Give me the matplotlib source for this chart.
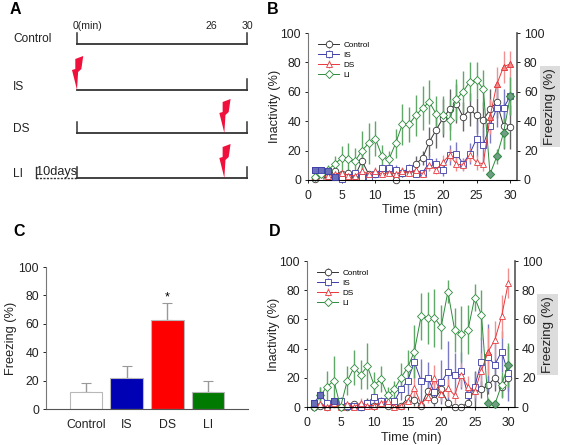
import matplotlib
matplotlib.use("Agg")
import matplotlib.pyplot as plt
from matplotlib.patches import Polygon, Rectangle

plt.rcParams["font.family"] = ["Liberation Sans", "DejaVu Sans"]

W, H = 563, 445

minutes = list(range(1, 31))

# panel B
b_control = [1, 3, 3, 6, 4, 5, 3, 13, 4, 4, 5, 7, 0, 5, 7, 11, 15, 26, 34, 42, 48, 52, 43, 48, 44, 41, 48, 53, 37, 36]
b_control_err = [1, 1, 1, 2, 2, 2, 2, 6, 2, 2, 2, 3, 1, 3, 3, 5, 5, 10, 12, 13, 14, 13, 10, 11, 12, 12, 14, 11, 16, 15]
b_is = [7, 7, 6, 2, 1, 2, 5, 2, 2, 4, 8, 8, 7, 5, 8, 4, 5, 12, 11, 7, 17, 18, 11, 18, 28, 24, 37, 49, 49, 57]
b_is_err = [2, 2, 2, 1, 1, 1, 2, 1, 1, 2, 3, 3, 3, 2, 3, 2, 2, 5, 4, 4, 7, 8, 4, 7, 12, 12, 12, 13, 13, 13]
b_ds = [2, 2, 3, 4, 5, 3, 3, 6, 4, 6, 4, 5, 4, 6, 5, 7, 4, 10, 7, 12, 17, 11, 10, 17, 12, 11, 43, 65, 77, 79]
b_ds_err = [1, 1, 1, 2, 2, 1, 1, 3, 2, 3, 2, 2, 2, 3, 2, 3, 2, 4, 3, 5, 4, 5, 4, 5, 5, 5, 12, 12, 11, 9]
b_li = [2, 4, 7, 11, 15, 14, 13, 20, 25, 28, 16, 14, 25, 38, 38, 44, 49, 53, 45, 44, 41, 55, 60, 67, 68, 62, 4, 16, 32, 57]
b_li_err = [1, 2, 3, 5, 8, 11, 9, 13, 14, 12, 8, 6, 10, 14, 12, 14, 15, 15, 12, 13, 14, 14, 14, 13, 12, 13, 2, 5, 10, 13]

# panel D
d_control = [0, 1, 0, 2, 0, 0, 2, 0, 3, 1, 3, 1, 1, 1, 6, 5, 1, 11, 5, 12, 3, 0, 0, 3, 12, 12, 15, 20, 14, 20]
d_control_err = [0, 1, 1, 2, 1, 1, 2, 1, 3, 2, 3, 1, 1, 1, 3, 4, 2, 6, 4, 7, 3, 1, 1, 3, 13, 6, 6, 9, 7, 9]
d_is = [3, 8, 3, 4, 4, 1, 1, 0, 3, 7, 4, 4, 4, 12, 18, 31, 18, 20, 10, 17, 24, 22, 25, 8, 14, 31, 34, 29, 38, 23]
d_is_err = [2, 6, 2, 3, 3, 1, 1, 1, 2, 5, 3, 3, 3, 7, 9, 11, 15, 11, 8, 15, 21, 15, 13, 7, 10, 17, 23, 14, 14, 19]
d_ds = [1, 2, 0, 3, 0, 2, 0, 3, 1, 1, 3, 4, 0, 1, 4, 13, 2, 7, 20, 9, 13, 8, 22, 14, 11, 25, 38, 46, 62, 85]
d_ds_err = [1, 1, 1, 2, 1, 1, 1, 3, 1, 1, 2, 2, 1, 1, 2, 7, 2, 4, 9, 5, 6, 5, 8, 7, 5, 12, 16, 13, 15, 10]
d_li = [0, 8, 14, 18, 0, 18, 27, 22, 28, 15, 19, 8, 12, 20, 27, 38, 62, 61, 61, 55, 79, 53, 50, 53, 75, 63, 3, 2, 15, 29]
d_li_err = [0, 6, 11, 17, 1, 10, 12, 10, 16, 9, 9, 6, 6, 10, 12, 18, 16, 18, 20, 15, 8, 15, 19, 17, 9, 17, 3, 2, 9, 15]

# minutes whose markers look filled in the original
b_filled = {"IS": [1, 2, 3, 4], "DS": [27, 28, 29, 30], "LI": [27, 28, 29, 30]}
d_filled = {"IS": [1, 2, 4], "DS": [27], "LI": [27, 28, 30]}

# panel C
groups = ["Control", "IS", "DS", "LI"]
freezing = [12, 21.5, 63, 12]
freezing_err = [6, 9, 12, 8]
bar_colors = ["white", "#0000b4", "#ff0000", "#007a00"]

# panel A
rows = ["Control", "IS", "DS", "LI"]
shock_time = [None, 0, 26, 26]

series_colors = {"Control": "#333333", "IS": "#3c3ca8", "DS": "#e8383c", "LI": "#2e8b3c"}
err_colors = {"Control": "#666666", "IS": "#7a7ac8", "DS": "#f09090", "LI": "#5fa868"}
fill_colors = {"IS": "#6a70b8", "DS": "#f08a8a", "LI": "#6f9e84"}
series_markers = {"Control": "o", "IS": "s", "DS": "^", "LI": "D"}
series_sizes = {"Control": 4.7, "IS": 4.2, "DS": 4.8, "LI": 4.0}


def px_axes(left, top, right, bottom):
    return fig.add_axes([left / W, 1 - bottom / H, (right - left) / W, (bottom - top) / H])


def fig_text(x, y, s, **kw):
    kw.setdefault("va", "center")
    fig.text(x / W, 1 - y / H, s, **kw)


def time_panel(box, data, filled, label_box):
    ax = px_axes(*box)
    for name, vals, err in data:
        ax.errorbar(minutes, vals, yerr=err, color=series_colors[name], ecolor=err_colors[name],
                    elinewidth=1.0, linewidth=0.7, marker=series_markers[name],
                    markersize=series_sizes[name], markerfacecolor="white",
                    markeredgecolor=series_colors[name], markeredgewidth=0.6,
                    clip_on=False, label=name)
        if name in filled:
            ax.plot(filled[name], [vals[m - 1] for m in filled[name]], ls="none",
                    marker=series_markers[name], markersize=series_sizes[name],
                    markerfacecolor=fill_colors[name], markeredgecolor=series_colors[name],
                    markeredgewidth=0.6, clip_on=False, zorder=3)
    ax.set_xlim(0, 31)
    ax.set_ylim(0, 100)
    ax.set_xticks(range(0, 31, 5))
    ax.set_yticks(range(0, 101, 20))
    ax.tick_params(labelsize=8.8, length=2, width=0.7, colors="#222222")
    ax.tick_params(axis="x", pad=5)
    ax.tick_params(axis="y", pad=3)
    ax.spines["top"].set_visible(False)
    ax.spines["left"].set_color("#777777")
    ax.spines["right"].set_color("#555555")
    ax.spines["right"].set_linewidth(1.2)
    ax.set_xlabel("Time (min)", fontsize=9.2, labelpad=2, color="#222222")
    ax.set_ylabel("Inactivity (%)", fontsize=9.2, labelpad=0, color="#222222")
    ax.legend(loc="upper left", bbox_to_anchor=(0.02, 0.985), frameon=False, fontsize=5.9,
              labelspacing=0.3, handlelength=2.6, handletextpad=0.5, borderpad=0.2)
    right = ax.twinx()
    right.set_ylim(0, 100)
    right.set_yticks(range(0, 101, 20))
    right.tick_params(labelsize=8.8, length=2, width=0.7, pad=3, colors="#222222")
    for s in right.spines.values():
        s.set_visible(False)
    x0, y0, x1, y1 = label_box
    fig.add_artist(Rectangle((x0 / W, 1 - y1 / H), (x1 - x0) / W, (y1 - y0) / H,
                             facecolor="#dcdcdc", edgecolor="none", transform=fig.transFigure))
    fig_text((x0 + x1) / 2, (y0 + y1) / 2, "Freezing (%)", rotation=90, ha="center",
             fontsize=9.6, color="#222222")


fig = plt.figure(figsize=(W / 100, H / 100), dpi=100)

# A: schematic, x axis in minutes
ax_a = px_axes(77, 0, 247, 210)
ax_a.set_xlim(0, 30)
ax_a.set_ylim(210, 0)
ax_a.axis("off")
row_y = [44, 90, 133, 178]
left_tick = [True, False, True, True]
label_y = [39, 87, 129, 174]
bolt = [(-0.3, -31), (1.1, -34), (0.77, -21), (0.2, -18), (0.0, 0), (-0.88, -20), (-0.3, -21)]
for name, y, has_tick, ly, shock in zip(rows, row_y, left_tick, label_y, shock_time):
    ax_a.plot([0, 30], [y, y], color="#333333", lw=1.3, clip_on=False)
    ax_a.plot([30, 30], [y, y - 11], color="#333333", lw=1.1, clip_on=False)
    if has_tick:
        ax_a.plot([0, 0], [y, y - 11], color="#333333", lw=1.1, clip_on=False)
    fig_text(13, ly, name, fontsize=8.6, color="#222222")
    if shock is not None:
        ax_a.add_patch(Polygon([(shock + dx, y + dy) for dx, dy in bolt], closed=True,
                               facecolor="#f0103c", edgecolor="none", clip_on=False, zorder=3))
ax_a.plot([-7.2, 0], [178, 178], color="#333333", lw=1.0, ls=(0, (1.5, 1)), clip_on=False)
ax_a.plot([-7.2, -7.2], [178, 167], color="#333333", lw=1.0, clip_on=False)
fig_text(36, 172, "10days", fontsize=9.2, color="#222222")
fig_text(73, 26, "0(min)", fontsize=7.6, color="#222222")
fig_text(211, 26, "26", fontsize=7.6, ha="center", color="#222222")
fig_text(247, 26, "30", fontsize=7.6, ha="center", color="#222222")

# B and D
time_panel((308, 33, 517, 180),
           [("Control", b_control, b_control_err), ("IS", b_is, b_is_err),
            ("DS", b_ds, b_ds_err), ("LI", b_li, b_li_err)], b_filled, (540, 66, 560, 147))
time_panel((307, 261, 515, 407),
           [("Control", d_control, d_control_err), ("IS", d_is, d_is_err),
            ("DS", d_ds, d_ds_err), ("LI", d_li, d_li_err)], d_filled, (537, 294, 558, 375))

# C
ax_c = px_axes(46, 267, 248, 409)
pos = range(len(groups))
ax_c.errorbar(pos, freezing, yerr=[[0] * 4, freezing_err], fmt="none", ecolor="#999999",
              elinewidth=1.0, capsize=3.5, capthick=0.8)
ax_c.bar(pos, freezing, width=0.8, color=bar_colors, edgecolor="#b8b8b8", linewidth=0.8, zorder=2)
ax_c.text(2, freezing[2] + freezing_err[2] - 1, "*", ha="center", va="bottom", fontsize=9)
ax_c.set_xlim(-0.98, 3.98)
ax_c.set_ylim(0, 100)
ax_c.set_yticks(range(0, 101, 20))
ax_c.set_xticks(list(pos))
ax_c.set_xticklabels(groups)
ax_c.tick_params(labelsize=8.8, length=2, width=0.7, pad=3, colors="#222222")
ax_c.tick_params(axis="x", length=0, pad=7)
ax_c.spines["top"].set_visible(False)
ax_c.spines["right"].set_visible(False)
ax_c.spines["left"].set_color("#777777")
ax_c.spines["bottom"].set_color("#555555")
ax_c.set_ylabel("Freezing (%)", fontsize=9.2, labelpad=1, color="#222222")

for letter, x, y in [("A", 10, 9), ("B", 267, 9), ("C", 13, 232), ("D", 269, 232)]:
    fig_text(x, y, letter, fontsize=11.5, fontweight="bold", color="black")

fig.savefig("out.png", dpi=100)
